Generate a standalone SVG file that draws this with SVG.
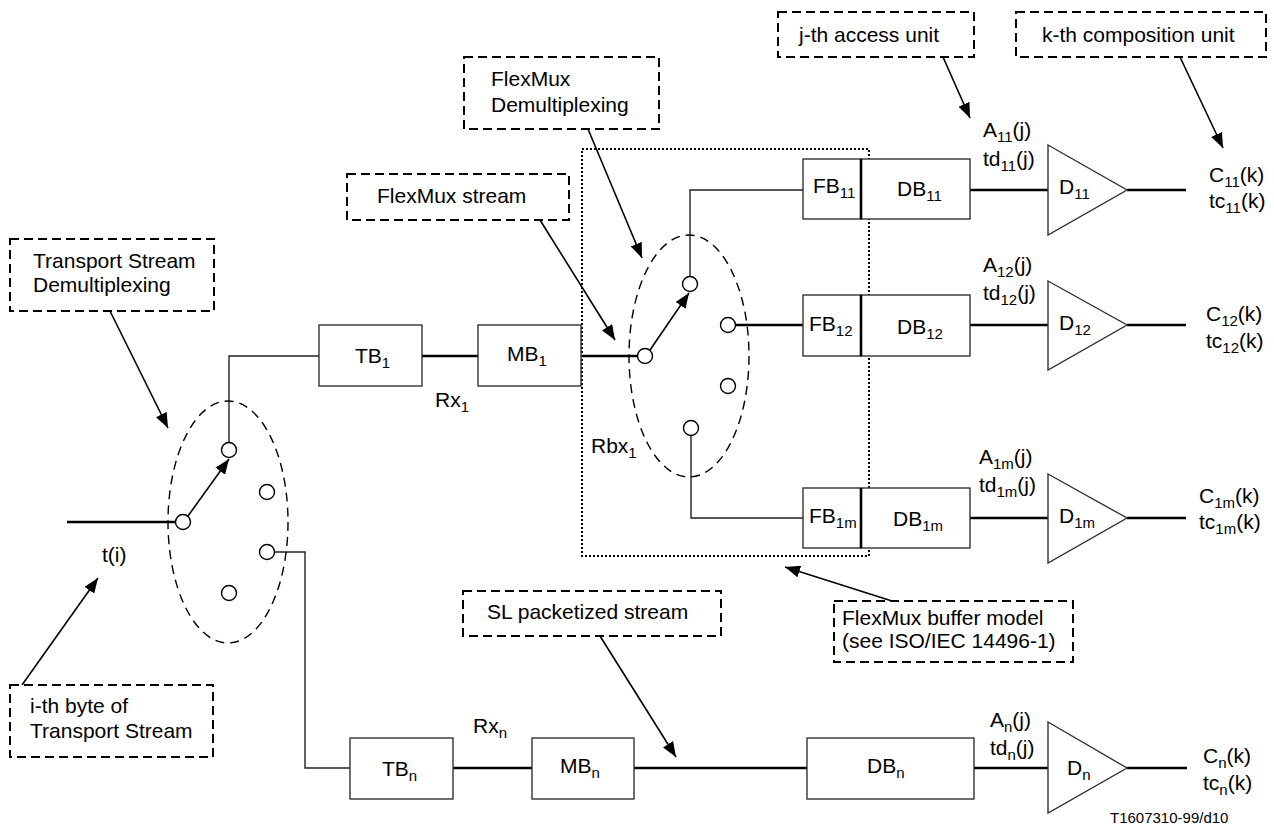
<svg xmlns="http://www.w3.org/2000/svg" width="1274" height="829" viewBox="0 0 1274 829">
<style>
text{font-family:"Liberation Sans",Arial,sans-serif;font-size:21px;fill:#000}
.s{font-size:15px}
.box{fill:#fff;stroke:#333;stroke-width:1.4}
.note{fill:#fff;stroke:#000;stroke-width:2;stroke-dasharray:9 5}
.thin{fill:none;stroke:#222;stroke-width:1.4}
.thick{fill:none;stroke:#000;stroke-width:2.4}
.ell{fill:none;stroke:#000;stroke-width:1.4;stroke-dasharray:9 6}
.sw{fill:#fff;stroke:#000;stroke-width:1.4}
.arr{fill:none;stroke:#000;stroke-width:1.6;marker-end:url(#ah)}
.tri{fill:#fff;stroke:#333;stroke-width:1.4}
</style>
<defs>
<marker id="ah" markerUnits="userSpaceOnUse" markerWidth="16" markerHeight="12" refX="15" refY="6" orient="auto">
<path d="M0,0 L15,6 L0,12 z" fill="#000"/>
</marker>
</defs>

<g id="connectors">
<line class="thick" x1="67" y1="522" x2="176" y2="522"/>
<polyline class="thin" points="229,443 229,356 319,356"/>
<line class="thick" x1="422" y1="356" x2="478" y2="356"/>
<line class="thick" x1="581" y1="356" x2="638" y2="356"/>
<polyline class="thin" points="690,277 690,190 803,190"/>
<line class="thick" x1="736" y1="325" x2="803" y2="325"/>
<polyline class="thin" points="691,435 691,518 803,518"/>
<polyline class="thin" points="275,552 305,552 305,768 350,768"/>
<line class="thick" x1="453" y1="768" x2="532" y2="768"/>
<line class="thick" x1="634" y1="768" x2="807" y2="768"/>
<line class="thick" x1="970" y1="190" x2="1048" y2="190"/>
<line class="thick" x1="970" y1="325" x2="1048" y2="325"/>
<line class="thick" x1="970" y1="518" x2="1048" y2="518"/>
<line class="thick" x1="974" y1="768" x2="1048" y2="768"/>
<line class="thick" x1="1127" y1="190" x2="1186" y2="190"/>
<line class="thick" x1="1127" y1="325" x2="1186" y2="325"/>
<line class="thick" x1="1127" y1="518" x2="1186" y2="518"/>
<line class="thick" x1="1127" y1="768" x2="1187" y2="768"/>
<line class="arr" x1="188" y1="516" x2="229" y2="459"/>
<line class="arr" x1="650" y1="350" x2="689" y2="293"/>
<line class="arr" x1="110" y1="311" x2="168" y2="428"/>
<line class="arr" x1="22" y1="685" x2="98" y2="578"/>
<line class="arr" x1="540" y1="220" x2="615" y2="340"/>
<line class="arr" x1="588" y1="129" x2="642" y2="258"/>
<line class="arr" x1="943" y1="57" x2="970" y2="118"/>
<line class="arr" x1="1180" y1="57" x2="1223" y2="148"/>
<line class="arr" x1="892" y1="601" x2="785" y2="567"/>
<line class="arr" x1="600" y1="636" x2="676" y2="757"/>
</g>

<g id="ts-demux">
<ellipse class="ell" cx="228" cy="522" rx="60" ry="121"/>
<circle class="sw" cx="183" cy="522" r="7.5"/>
<circle class="sw" cx="229" cy="450" r="7.5"/>
<circle class="sw" cx="267" cy="492" r="7.5"/>
<circle class="sw" cx="267" cy="552" r="7.5"/>
<circle class="sw" cx="229" cy="593" r="7.5"/>
</g>

<g id="flexmux-buffer-model">
<rect x="582" y="149" width="287" height="407" fill="none" stroke="#000" stroke-width="2" stroke-dasharray="2 2"/>
</g>

<g id="flexmux-demux">
<ellipse class="ell" cx="689" cy="356" rx="60" ry="121"/>
<circle class="sw" cx="645" cy="356" r="7.5"/>
<circle class="sw" cx="690" cy="284" r="7.5"/>
<circle class="sw" cx="728" cy="325" r="7.5"/>
<circle class="sw" cx="728" cy="386" r="7.5"/>
<circle class="sw" cx="691" cy="428" r="7.5"/>
</g>

<g id="TB1"><rect class="box" x="319" y="325" width="103" height="61"/><text x="355" y="363">TB<tspan class="s" dy="5">1</tspan></text></g>
<g id="MB1"><rect class="box" x="478" y="325" width="103" height="61"/><text x="507" y="361">MB<tspan class="s" dy="5">1</tspan></text></g>
<g id="TBn"><rect class="box" x="350" y="738" width="103" height="61"/><text x="382" y="776">TB<tspan class="s" dy="5">n</tspan></text></g>
<g id="MBn"><rect class="box" x="532" y="738" width="102" height="61"/><text x="560" y="773">MB<tspan class="s" dy="5">n</tspan></text></g>

<g id="FB11"><rect class="box" x="803" y="159" width="58" height="60"/><text x="813" y="193">FB<tspan class="s" dy="5">11</tspan></text></g>
<g id="DB11"><rect class="box" x="861" y="159" width="109" height="60"/><text x="897" y="196">DB<tspan class="s" dy="5">11</tspan></text></g>
<g id="FB12"><rect class="box" x="803" y="295" width="58" height="61"/><text x="809" y="331">FB<tspan class="s" dy="5">12</tspan></text></g>
<g id="DB12"><rect class="box" x="861" y="295" width="109" height="61"/><text x="897" y="334">DB<tspan class="s" dy="5">12</tspan></text></g>
<g id="FB1m"><rect class="box" x="803" y="488" width="58" height="60"/><text x="809" y="523">FB<tspan class="s" dy="5">1m</tspan></text></g>
<g id="DB1m"><rect class="box" x="861" y="488" width="109" height="60"/><text x="893" y="526">DB<tspan class="s" dy="5">1m</tspan></text></g>
<g id="DBn"><rect class="box" x="807" y="738" width="167" height="61"/><text x="867" y="773">DB<tspan class="s" dy="5">n</tspan></text></g>
<g id="fb-db-borders">
<line x1="861" y1="159" x2="861" y2="219" stroke="#000" stroke-width="2.6"/>
<line x1="861" y1="295" x2="861" y2="356" stroke="#000" stroke-width="2.6"/>
<line x1="861" y1="488" x2="861" y2="548" stroke="#000" stroke-width="2.6"/>
</g>

<g id="D11"><polygon class="tri" points="1048,145 1127,190 1048,235"/><text x="1059" y="194">D<tspan class="s" dy="5">11</tspan></text></g>
<g id="D12"><polygon class="tri" points="1048,281 1127,325 1048,370"/><text x="1059" y="330">D<tspan class="s" dy="5">12</tspan></text></g>
<g id="D1m"><polygon class="tri" points="1048,474 1127,518 1048,563"/><text x="1059" y="523">D<tspan class="s" dy="5">1m</tspan></text></g>
<g id="Dn"><polygon class="tri" points="1048,722 1127,768 1048,813"/><text x="1067" y="775">D<tspan class="s" dy="5">n</tspan></text></g>

<g id="labels">
<text x="102" y="562">t(i)</text>
<text x="435" y="407">Rx<tspan class="s" dy="5">1</tspan></text>
<text x="473" y="733">Rx<tspan class="s" dy="5">n</tspan></text>
<text x="591" y="453">Rbx<tspan class="s" dy="5">1</tspan></text>
<text x="983" y="137">A<tspan class="s" dy="5">11</tspan><tspan dy="-5">(j)</tspan></text>
<text x="983" y="166">td<tspan class="s" dy="5">11</tspan><tspan dy="-5">(j)</tspan></text>
<text x="983" y="272">A<tspan class="s" dy="5">12</tspan><tspan dy="-5">(j)</tspan></text>
<text x="983" y="300">td<tspan class="s" dy="5">12</tspan><tspan dy="-5">(j)</tspan></text>
<text x="979" y="464">A<tspan class="s" dy="5">1m</tspan><tspan dy="-5">(j)</tspan></text>
<text x="979" y="492">td<tspan class="s" dy="5">1m</tspan><tspan dy="-5">(j)</tspan></text>
<text x="990" y="727">A<tspan class="s" dy="5">n</tspan><tspan dy="-5">(j)</tspan></text>
<text x="990" y="755">td<tspan class="s" dy="5">n</tspan><tspan dy="-5">(j)</tspan></text>
<text x="1209" y="182">C<tspan class="s" dy="5">11</tspan><tspan dy="-5">(k)</tspan></text>
<text x="1209" y="208">tc<tspan class="s" dy="5">11</tspan><tspan dy="-5">(k)</tspan></text>
<text x="1206" y="321">C<tspan class="s" dy="5">12</tspan><tspan dy="-5">(k)</tspan></text>
<text x="1206" y="348">tc<tspan class="s" dy="5">12</tspan><tspan dy="-5">(k)</tspan></text>
<text x="1199" y="503">C<tspan class="s" dy="5">1m</tspan><tspan dy="-5">(k)</tspan></text>
<text x="1199" y="529">tc<tspan class="s" dy="5">1m</tspan><tspan dy="-5">(k)</tspan></text>
<text x="1203" y="763">C<tspan class="s" dy="5">n</tspan><tspan dy="-5">(k)</tspan></text>
<text x="1203" y="790">tc<tspan class="s" dy="5">n</tspan><tspan dy="-5">(k)</tspan></text>
<text x="1110" y="823" style="font-size:15px">T1607310-99/d10</text>
</g>

<g id="note-ts-demux"><rect class="note" x="10" y="239" width="204" height="72"/><text x="33" y="268">Transport Stream</text><text x="33" y="292">Demultiplexing</text></g>
<g id="note-ith-byte"><rect class="note" x="10" y="685" width="203" height="72"/><text x="30" y="713">i-th byte of</text><text x="30" y="738">Transport Stream</text></g>
<g id="note-flexmux-stream"><rect class="note" x="347" y="174" width="222" height="46"/><text x="377" y="203">FlexMux stream</text></g>
<g id="note-flexmux-demux"><rect class="note" x="464" y="57" width="195" height="72"/><text x="491" y="86">FlexMux</text><text x="491" y="112">Demultiplexing</text></g>
<g id="note-access-unit"><rect class="note" x="778" y="12" width="196" height="45"/><text x="799" y="42">j-th access unit</text></g>
<g id="note-composition-unit"><rect class="note" x="1016" y="12" width="250" height="45"/><text x="1042" y="42">k-th composition unit</text></g>
<g id="note-buffer-model"><rect class="note" x="834" y="601" width="239" height="61"/><text x="842" y="625">FlexMux buffer model</text><text x="842" y="648">(see ISO/IEC 14496-1)</text></g>
<g id="note-sl-stream"><rect class="note" x="463" y="591" width="258" height="45"/><text x="487" y="619">SL packetized stream</text></g>
</svg>
